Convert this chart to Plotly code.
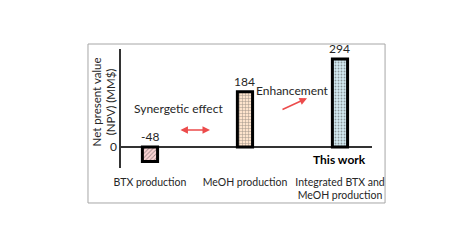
import plotly.graph_objects as go

categories = ["BTX production", "MeOH production", "Integrated BTX and<br>MeOH production"]
npv_values = [-48, 184, 294]
value_labels = ["-48", "184", "294"]
bar_fill = ["#fbd3d3", "#fde3cc", "#d3eaf2"]
bar_hatch_color = ["#e05a5a", "#f2b48a", "#9cbfcf"]
bar_hatch_shape = ["/", "+", "."]

xpos = list(range(len(categories)))
FONT = "Lato"
TXT = "#262626"

fig = go.Figure()
fig.add_trace(go.Bar(
    x=xpos, y=npv_values, width=0.16,
    marker=dict(
        color=bar_fill,
        line=dict(color="black", width=3),
        pattern=dict(shape=bar_hatch_shape, fgcolor=bar_hatch_color,
                     size=3, solidity=0.3, fillmode="overlay"),
    ),
    hoverinfo="skip",
))

annotations = []
for xi, v, lab in zip(xpos, npv_values, value_labels):
    annotations.append(dict(x=xi, y=max(v, 0), text=lab, showarrow=False,
                            yanchor="bottom", yshift=1,
                            font=dict(family=FONT, size=12, color=TXT)))

annotations += [
    dict(x=0.3, y=130, text="Synergetic effect", showarrow=False,
         font=dict(family=FONT, size=12, color=TXT)),
    dict(x=1.5, y=187, text="Enhancement", showarrow=False,
         font=dict(family=FONT, size=12, color=TXT)),
    dict(x=2.0, y=-43, text="<b>This work</b>", showarrow=False,
         font=dict(family=FONT, size=12, color="black")),
    dict(xref="paper", yref="paper", x=-0.0697, y=0.555,
         xanchor="center", yanchor="middle",
         text="Net present value<br>(NPV) (MM$)", textangle=-90, showarrow=False,
         font=dict(family=FONT, size=11.5, color=TXT)),
    dict(x=0.632, y=57, ax=0.305, ay=57, xref="x", yref="y", axref="x", ayref="y",
         text="", showarrow=True, arrowhead=2, startarrowhead=2, arrowside="end+start",
         arrowsize=1, arrowwidth=1.5, arrowcolor="#ec4b4b"),
    dict(x=1.653, y=163, ax=1.379, ay=123, xref="x", yref="y", axref="x", ayref="y",
         text="", showarrow=True, arrowhead=2, arrowsize=1, arrowwidth=1.5,
         arrowcolor="#ec4b4b"),
]

fig.update_layout(
    width=474, height=248,
    margin=dict(l=121, r=102, t=49, b=80, autoexpand=False),
    paper_bgcolor="white", plot_bgcolor="white",
    showlegend=False,
    annotations=annotations,
    shapes=[dict(type="rect", xref="paper", yref="paper",
                 x0=-0.1315, x1=1.052, y0=-0.294, y1=1.042,
                 line=dict(color="#a6a6a6", width=1), fillcolor="rgba(0,0,0,0)",
                 layer="below")],
    xaxis=dict(range=[-0.305, 2.337], tickvals=xpos, ticktext=categories,
               tickangle=0, automargin=False, ticklabelstandoff=6,
               showgrid=False, zeroline=False, showline=False, ticks="",
               tickfont=dict(family=FONT, size=10.5, color=TXT)),
    yaxis=dict(range=[-70, 327], tickvals=[0], ticktext=["0"], showgrid=False,
               automargin=False,
               zeroline=True, zerolinecolor="#333333", zerolinewidth=1.5,
               showline=True, linecolor="#333333", linewidth=1.5, ticks="",
               tickfont=dict(family=FONT, size=12, color=TXT)),
)

fig.write_html("out.html")
